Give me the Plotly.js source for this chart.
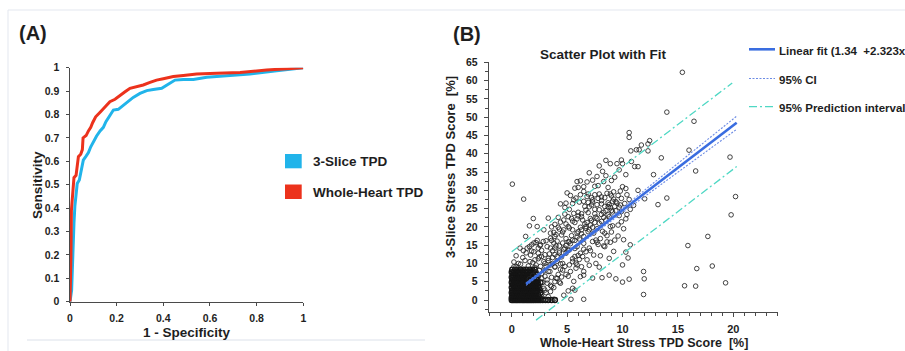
<!DOCTYPE html>
<html>
<head>
<meta charset="utf-8">
<script src="https://cdn.plot.ly/plotly-3.0.1.min.js"></script>
<style>html,body{margin:0;padding:0;background:#fff;}#chart{width:905px;height:351px;}</style>
</head>
<body>
<div id="chart"></div>
<script>
// ---------- Panel A: ROC curves ----------
const rocFprSlice = [0,0.007,0.01,0.013,0.017,0.021,0.026,0.031,0.04,0.046,0.051,0.057,0.069,0.079,0.089,0.1,0.114,0.129,0.143,0.154,0.169,0.186,0.207,0.229,0.25,0.271,0.3,0.329,0.357,0.393,0.421,0.45,0.486,0.529,0.586,0.671,0.771,0.886,1];
const rocTprSlice = [0,0.05,0.135,0.25,0.335,0.41,0.46,0.505,0.52,0.55,0.577,0.605,0.622,0.637,0.662,0.684,0.708,0.73,0.745,0.769,0.79,0.819,0.822,0.84,0.855,0.873,0.89,0.902,0.907,0.912,0.929,0.947,0.95,0.95,0.959,0.965,0.973,0.987,1];
const rocFprWhole = [0,0.003,0.004,0.006,0.011,0.017,0.026,0.031,0.036,0.046,0.053,0.056,0.069,0.079,0.089,0.097,0.11,0.129,0.143,0.157,0.171,0.193,0.214,0.236,0.257,0.286,0.314,0.343,0.371,0.4,0.443,0.486,0.543,0.629,0.729,0.843,0.929,1];
const rocTprWhole = [0,0.09,0.19,0.39,0.48,0.53,0.54,0.58,0.62,0.63,0.65,0.70,0.71,0.73,0.745,0.765,0.79,0.81,0.826,0.84,0.855,0.865,0.879,0.897,0.912,0.919,0.926,0.937,0.947,0.953,0.962,0.967,0.973,0.976,0.98,0.99,0.996,1];
const rocTicksX = [0,0.2,0.4,0.6,0.8,1];
const rocTickTextX = ['0','0.2','0.4','0.6','0.8','1'];
const rocLegend = ['3-Slice TPD','Whole-Heart TPD'];

// ---------- Panel B: scatter with fit ----------
const sparsePts = [
[15.4,62.3],[14.0,51.4],[16.45,48.9],[16.0,41.0],[16.6,35.3],[19.7,39.1],[20.2,28.3],[19.8,23.3],[17.7,17.4],[15.9,14.9],
[16.7,8.6],[18.1,9.3],[15.6,3.9],[16.6,3.8],[19.3,4.7],[0.06,31.7],[1.08,27.6],[12.0,27.7],[13.2,26.1],[14.0,27.9],
[12.8,34.3],[13.5,38.9],[11.9,7.8],[11.96,5.8],[11.9,1.5],[10.6,5.7],[10.0,4.9],[9.4,5.8],[8.8,6.8],[8.15,6.1],
[7.3,6.0],[6.5,0.2],[5.35,0.2],[5.7,2.7],[5.5,3.2],[5.1,2.5],[4.7,1.3],[10.0,9.6],[10.5,11.5],[10.7,15.1],
[10.3,13.1],[10.1,16.5],[10.3,22.2],[10.6,27.5],[11.4,30.0],[11.4,36.5],[11.1,36.5],[10.8,37.9],[10.3,34.3],[10.0,37.3],
[9.9,38.3],[9.5,37.3],[8.9,37.3],[8.5,38.2],[7.9,36.7],[8.2,35.2],[10.6,45.8],[10.6,44.5],[10.75,40.8],[11.25,41.1],
[11.5,41.1],[11.7,42.4],[12.3,42.7],[12.45,43.6],[12.3,40.8],[10.0,31.0],[10.3,30.5],
[6.2,32.6],[6.8,32.3],[7.3,32.8],[7.5,31.1],[7.8,31.3],[8.3,32.4],[9.0,32.7],[8.7,30.8],[9.2,29.6],[9.2,27.6],
[9.5,26.5],[9.1,27.0],[8.6,29.2],[7.9,29.0],[7.5,28.8],[7.2,28.0],[6.8,28.3],[6.5,29.7],[6.0,30.8],[5.3,28.6],
[5.6,27.4],[5.8,27.9],[4.9,26.5],[4.4,26.3],[4.8,25.3],[5.5,26.4],[6.1,26.8],[6.5,27.0],[6.9,26.7],[7.3,26.8],
[7.7,26.1],[8.1,27.2],[8.4,25.6],[8.8,26.1],[9.0,24.5],[9.4,24.4],[9.8,26.0],[9.9,24.2],[9.7,23.1],[8.8,22.8],
[8.5,21.9],[8.1,21.5],[7.6,22.7],[7.1,22.3],[6.8,21.2],[6.4,21.9],[6.0,23.0],[5.6,23.7],[5.1,22.8],[4.7,21.9],
[4.4,21.3],[4.2,19.9],[4.7,19.2],[5.1,20.1],[5.5,19.2],[5.9,18.3],[6.3,19.2],[6.7,20.1],[7.0,19.2],[7.4,18.3],
[7.7,19.5],[8.2,18.8],[8.4,18.3],[8.9,20.1],[9.1,20.3],[8.6,15.9],[7.3,16.0],[7.6,16.4],[6.5,15.5],[5.9,14.6],
[5.2,15.9],[4.8,14.2],[4.3,14.8],[3.9,14.2],[5.7,11.9],[6.1,11.1],[6.3,9.1],[6.5,7.8],[6.5,6.8],[5.8,8.7],
[5.3,7.8],[4.6,10.0],[4.4,8.4],[4.9,12.8],[5.2,13.7],
[1.95,22.3],[1.6,20.3],[2.3,20.1],[3.3,22.4],[2.9,19.2],[3.5,18.3],[3.9,20.7],[1.26,17.4],[0.75,14.2],[1.05,13.5],
[1.4,14.2],[1.8,15.1],[2.2,15.7],[2.55,14.9],[2.85,16.0],[3.2,14.6],[3.6,16.3],[3.9,17.4],[2.4,12.8],[2.7,11.9],
[2.1,11.0],[1.65,10.5],[3.0,10.0],[3.3,11.4],[3.7,10.0],[4.1,11.9],[3.9,9.1],[3.45,7.8],[4.1,5.9],[4.4,4.6],
[3.6,3.7],[3.3,0.9],[3.8,0.2],[2.9,0.3],[3.0,2.7],[0.4,12.1],[0.6,10.0],[0.2,9.1]
];
const cloudPts = [
[1.6,5.8],[1.9,6.7],[2.2,7.5],[2.5,8.1],[2.1,8.9],[2.4,6.3],[2.7,6.0],[2.9,8.0],[3.1,9.2],[3.3,10.8],
[3.5,9.6],[3.7,11.6],[3.9,12.4],[4.1,10.6],[4.3,12.9],[4.5,11.8],[4.7,13.9],[4.9,14.9],[5.1,13.6],[5.3,15.4],
[5.5,16.4],[5.7,14.1],[5.9,17.2],[6.1,16.7],[6.3,18.1],[6.5,17.4],[6.7,19.6],[6.9,18.7],[7.1,20.5],[7.3,19.9],
[7.5,21.2],[7.7,22.3],[7.9,21.0],[8.1,23.4],[8.3,22.6],[8.5,24.4],[8.7,23.3],[8.9,25.3],[9.1,24.1],[9.4,26.9],
[9.7,25.4],[9.9,27.8],[10.2,26.4],[10.4,28.8],
[1.0,11.6],[1.3,12.9],[1.6,14.6],[1.8,13.4],[2.0,15.6],[2.3,16.3],[2.6,15.1],[3.1,16.2],
[3.5,14.2],[3.8,15.6],[4.0,17.9],[4.3,19.4],[4.6,18.6],[4.9,20.8],[5.2,19.7],[5.4,22.3],[5.7,21.2],[6.0,24.0],
[6.3,22.8],[6.6,25.6],[6.9,23.9],[7.2,26.0],[7.5,24.8],[7.8,27.8],[8.1,26.3],[8.4,28.0],[8.7,25.5],[9.0,28.5],
[3.0,12.4],[2.7,13.6],[2.4,11.3],[3.9,9.0],[4.4,9.9],
[3.2,4.6],[3.5,2.3],[3.8,3.4],[4.0,6.0],[4.3,4.9],[4.6,8.2],[4.9,7.0],[5.2,9.6],[5.5,11.3],[5.8,10.1],
[6.0,12.2],[6.4,11.9],[6.7,13.2],[7.0,14.2],[7.4,12.3],[7.7,15.8],[8.0,16.8],[8.3,14.8],[8.6,17.6],[9.0,18.6],
[9.3,16.4],[9.6,20.5],[9.9,21.4],[10.1,19.5],[10.4,23.4],[10.7,24.8],[11.0,25.9],[5.6,5.1],[6.2,6.4],[7.0,9.5],
[7.9,9.0],[8.8,11.4],[7.0,34.8],[7.7,33.8],[8.5,34.0],[9.3,33.6],[9.7,35.6],[6.5,31.0],[5.9,32.4],
[2.7,1.5],[2.9,3.2],[3.1,2.0],[2.8,4.8],[3.2,5.5],[3.5,4.0],[3.0,6.5],[2.7,7.2],[3.3,7.8],[3.6,6.2],
[3.9,5.0],[4.2,7.0],[4.5,6.3],[2.6,9.2],[2.9,10.5],[2.5,11.8],[2.2,9.6],[1.9,10.2],[1.5,9.3],[1.2,10.8],
[0.8,9.8],[0.4,9.2],[0.2,10.4],[1.7,12.3],[2.0,13.2],[2.4,14.2],[3.4,12.6],[3.7,13.5],[4.0,14.8],[4.3,13.4],
[4.6,15.6],[4.9,16.8],[5.1,15.9],[5.4,17.6],[5.7,16.3],[6.0,18.7],[4.5,17.8],[4.1,16.1],[3.8,18.5],[3.5,16.9],
[3.6,20.0],[4.2,22.6],[4.8,23.5],[5.2,24.8],[5.5,21.6],
[5.9,22.2],[6.3,23.6],[6.7,24.6],[7.0,25.5],[6.6,20.8],[6.2,19.9],[7.2,21.8],[7.5,23.6],[7.9,24.7],[8.3,24.0],
[8.7,26.6],[9.3,25.6],[9.6,28.6],[9.8,29.8],[8.9,29.0],[8.1,28.2],[7.3,27.4],[6.9,29.0],[6.2,28.8],[5.7,30.6],
[5.0,29.3],[4.8,9.2],[5.1,6.5],[5.5,10.5],[5.9,9.6],[6.2,12.8],[6.8,11.0],[7.1,13.5],[7.6,10.0],[8.0,12.1],
[8.4,14.6],[8.9,15.8],[9.2,13.3],[9.6,17.5],[7.8,15.2],[6.5,13.9]
];
// dense block near the origin, row by row
const denseRowY = [0,0.6,1.3,2.0,2.7,3.4,4.1,4.8,5.5,6.2,6.9,7.6,8.3];
const denseRowX = [
[0,0.12,0.25,0.38,0.5,0.62,0.75,0.88,1,1.12,1.25,1.38,1.5,1.62,1.75,1.88,2,2.15,2.3,2.45,2.6,2.8,3.05,3.3,3.6,3.9],
[0,0.15,0.3,0.45,0.6,0.8,0.95,1.1,1.3,1.45,1.6,1.8,1.95,2.1,2.3,2.5],
[0.05,0.2,0.4,0.55,0.7,0.9,1.05,1.2,1.4,1.55,1.7,1.9,2.05,2.2,2.4],
[0,0.15,0.3,0.5,0.65,0.8,1,1.15,1.3,1.5,1.65,1.85,2,2.2,2.35,2.6],
[0.05,0.25,0.4,0.55,0.75,0.9,1.1,1.25,1.45,1.6,1.8,1.95,2.15,2.3,2.55],
[0,0.2,0.35,0.5,0.7,0.85,1.05,1.2,1.35,1.55,1.7,1.9,2.1,2.25,2.45],
[0.1,0.25,0.45,0.6,0.8,0.95,1.15,1.3,1.5,1.65,1.85,2,2.2,2.4],
[0,0.2,0.35,0.55,0.7,0.9,1.05,1.25,1.4,1.6,1.75,1.95,2.15,2.35,2.6],
[0.05,0.25,0.4,0.6,0.75,0.95,1.1,1.3,1.45,1.65,1.85,2.05,2.3],
[0,0.15,0.35,0.5,0.7,0.85,1.05,1.2,1.4,1.6,1.8,2,2.25],
[0.1,0.3,0.45,0.65,0.8,1,1.15,1.35,1.55,1.75,1.95,2.2],
[0,0.2,0.4,0.6,0.8,1,1.2,1.45,1.7,1.9,2.15],
[0.05,0.3,0.55,0.8,1.05,1.3,1.6,1.85,2.1]
];
const fitX = [1.3, 20.3];
const fitY = [4.36, 48.5];
const ciX = [1.3, 5, 10, 15, 20.3];
const ciUpper = [4.7, 13.3, 25.2, 37.4, 50.3];
const ciLower = [4.0, 12.6, 23.9, 35.0, 46.7];
const piUpperX = [0, 19.9];
const piUpperY = [13.2, 59.4];
const piLowerX = [2.2, 20.3];
const piLowerY = [-5.5, 36.5];
const scatterTicksX = [0,5,10,15,20];
const fitLegend = ['Linear fit (1.34\u00a0 +2.323x','95% CI','95% Prediction interval'];

// ---------- build ----------
const W = 905, H = 351;
const fx = p => p / W;
const fy = p => 1 - p / H;
const FONT = 'Liberation Sans, Arial, sans-serif';
const TXT = '#1e1e1e';

const sx = [], sy = [];
sparsePts.forEach(p => { sx.push(p[0]); sy.push(p[1]); });
cloudPts.forEach(p => { sx.push(p[0]); sy.push(p[1]); });
const dx = [], dy = [];
denseRowY.forEach((yv, i) => denseRowX[i].forEach(xv => { dx.push(xv); dy.push(yv); }));

// Panel B geometry (pixels)
const bLeft = 489.3, bRight = 778, bTop = 61.7, bBottom = 311.7;
const yRangeB = [-3.2, 65.2];
const ppu = (bBottom - bTop) / (yRangeB[1] - yRangeB[0]);
const extBottom = 325;
const yRangeB3 = [yRangeB[0] - (extBottom - bBottom) / ppu, yRangeB[1]];
const xRangeB = [-2.02, 24.03];

const PI_DASH = '8px,3px,2px,3px';
const CI_DASH = '2px,1.5px';
const traces = [
  {x: rocFprSlice, y: rocTprSlice, mode: 'lines', line: {color: '#21b4ea', width: 3}, xaxis: 'x', yaxis: 'y', hoverinfo: 'skip'},
  {x: rocFprWhole, y: rocTprWhole, mode: 'lines', line: {color: '#ec321c', width: 3}, xaxis: 'x', yaxis: 'y', hoverinfo: 'skip'},
  {x: dx, y: dy, mode: 'markers', xaxis: 'x2', yaxis: 'y2',
   marker: {symbol: 'circle-open', size: 5, color: '#141414', line: {width: 1.4}}, hoverinfo: 'skip'},
  {x: sx, y: sy, mode: 'markers', xaxis: 'x2', yaxis: 'y2',
   marker: {symbol: 'circle-open', size: 4.6, color: 'rgba(35,35,35,0.85)', line: {width: 1}}, hoverinfo: 'skip'},
  {x: piUpperX, y: piUpperY, mode: 'lines', xaxis: 'x3', yaxis: 'y3', line: {color: '#4fd8c4', width: 1.3, dash: PI_DASH}, hoverinfo: 'skip'},
  {x: piLowerX, y: piLowerY, mode: 'lines', xaxis: 'x3', yaxis: 'y3', line: {color: '#4fd8c4', width: 1.3, dash: PI_DASH}, hoverinfo: 'skip'},
  {x: ciX, y: ciUpper, mode: 'lines', xaxis: 'x3', yaxis: 'y3', line: {color: '#6c8be4', width: 1.1, dash: CI_DASH}, hoverinfo: 'skip'},
  {x: ciX, y: ciLower, mode: 'lines', xaxis: 'x3', yaxis: 'y3', line: {color: '#6c8be4', width: 1.1, dash: CI_DASH}, hoverinfo: 'skip'},
  {x: fitX, y: fitY, mode: 'lines', xaxis: 'x3', yaxis: 'y3', line: {color: '#3a6de0', width: 2.6}, hoverinfo: 'skip'}
];

const tickFont = {family: FONT, size: 10.5, color: TXT, weight: 'bold'};
const axA = {showgrid: false, zeroline: false, showline: true, linecolor: '#4a4a4a', linewidth: 1.5,
  ticks: 'outside', ticklen: 3, tickwidth: 1, tickcolor: '#4a4a4a', tickfont: tickFont, fixedrange: true};

const layout = {
  width: W, height: H, margin: {l: 0, r: 0, t: 0, b: 0},
  paper_bgcolor: '#ffffff', plot_bgcolor: 'rgba(0,0,0,0)', showlegend: false,
  xaxis: Object.assign({}, axA, {domain: [fx(70), fx(303.3)], range: [0, 1], tickvals: rocTicksX, ticktext: rocTickTextX, anchor: 'y', ticklabelstandoff: 3}),
  yaxis: Object.assign({}, axA, {domain: [fy(301.7), fy(67.7)], range: [0, 1], dtick: 0.1, tick0: 0, anchor: 'x', ticklabelstandoff: 4}),
  xaxis2: Object.assign({}, axA, {domain: [fx(bLeft), fx(bRight)], range: xRangeB, tickvals: scatterTicksX, anchor: 'y2',
    ticklen: 4, tickfont: Object.assign({}, tickFont, {size: 11}), ticklabelstandoff: 3,
    minor: {dtick: 1, tick0: 0, ticks: 'outside', ticklen: 3, tickcolor: '#4a4a4a', tickwidth: 1}}),
  yaxis2: Object.assign({}, axA, {domain: [fy(bBottom), fy(bTop)], range: yRangeB, dtick: 5, tick0: 0, anchor: 'x2',
    ticklen: 4, ticklabelstandoff: 4,
    minor: {dtick: 2.5, tick0: 0, ticks: 'outside', ticklen: 3, tickcolor: '#4a4a4a', tickwidth: 1}}),
  xaxis3: {domain: [fx(bLeft), fx(bRight)], range: xRangeB, visible: false, anchor: 'y3', fixedrange: true},
  yaxis3: {domain: [fy(extBottom), fy(bTop)], range: yRangeB3, visible: false, anchor: 'x3', fixedrange: true},
  shapes: [
    {type: 'line', xref: 'paper', yref: 'paper', x0: fx(8), x1: fx(905), y0: fy(10), y1: fy(10), line: {color: '#e3e7ef', width: 1}},
    {type: 'line', xref: 'paper', yref: 'paper', x0: fx(8), x1: fx(8), y0: fy(10), y1: fy(351), line: {color: '#e3e7ef', width: 1}},
    {type: 'line', xref: 'paper', yref: 'paper', x0: fx(27), x1: fx(425), y0: fy(340), y1: fy(340), line: {color: '#dce1ea', width: 1}},
    {type: 'rect', xref: 'paper', yref: 'paper', x0: fx(285), x1: fx(301.7), y0: fy(168.3), y1: fy(154), fillcolor: '#21b4ea', line: {width: 0}},
    {type: 'rect', xref: 'paper', yref: 'paper', x0: fx(285), x1: fx(301.7), y0: fy(199), y1: fy(184.5), fillcolor: '#ec321c', line: {width: 0}},
    {type: 'line', xref: 'paper', yref: 'paper', x0: fx(749), x1: fx(775), y0: fy(49.3), y1: fy(49.3), line: {color: '#3a6de0', width: 2.6}},
    {type: 'line', xref: 'paper', yref: 'paper', x0: fx(749), x1: fx(775), y0: fy(78.5), y1: fy(78.5), line: {color: '#6c8be4', width: 1.1, dash: CI_DASH}},
    {type: 'line', xref: 'paper', yref: 'paper', x0: fx(749), x1: fx(775), y0: fy(106.7), y1: fy(106.7), line: {color: '#4fd8c4', width: 1.3, dash: PI_DASH}}
  ],
  annotations: [
    {text: '(A)', x: fx(17), y: fy(33), xanchor: 'left', yanchor: 'middle', font: {family: FONT, size: 20, color: TXT, weight: 'bold'}},
    {text: '(B)', x: fx(451), y: fy(34), xanchor: 'left', yanchor: 'middle', font: {family: FONT, size: 20, color: TXT, weight: 'bold'}},
    {text: 'Sensitivity', x: fx(37), y: fy(185), textangle: -90, xanchor: 'center', yanchor: 'middle', font: {family: FONT, size: 13.5, color: TXT, weight: 'bold'}},
    {text: '1 - Specificity', x: fx(186.5), y: fy(332), xanchor: 'center', yanchor: 'middle', font: {family: FONT, size: 13.5, color: TXT, weight: 'bold'}},
    {text: rocLegend[0], x: fx(311), y: fy(161), xanchor: 'left', yanchor: 'middle', font: {family: FONT, size: 13.5, color: TXT, weight: 'bold'}},
    {text: rocLegend[1], x: fx(311), y: fy(192.5), xanchor: 'left', yanchor: 'middle', font: {family: FONT, size: 13.5, color: TXT, weight: 'bold'}},
    {text: 'Scatter Plot with Fit', x: fx(603.5), y: fy(55), xanchor: 'center', yanchor: 'middle', font: {family: FONT, size: 13.5, color: TXT, weight: 'bold'}},
    {text: '3-Slice Stress TPD Score \u00a0[%]', x: fx(450), y: fy(167), textangle: -90, xanchor: 'center', yanchor: 'middle', font: {family: FONT, size: 13, color: TXT, weight: 'bold'}},
    {text: 'Whole-Heart Stress TPD Score \u00a0[%]', x: fx(644), y: fy(342.8), xanchor: 'center', yanchor: 'middle', font: {family: FONT, size: 12.5, color: TXT, weight: 'bold'}},
    {text: fitLegend[0], x: fx(776.5), y: fy(50.7), xanchor: 'left', yanchor: 'middle', font: {family: FONT, size: 11.5, color: TXT, weight: 'bold'}},
    {text: fitLegend[1], x: fx(776.5), y: fy(80), xanchor: 'left', yanchor: 'middle', font: {family: FONT, size: 11.5, color: TXT, weight: 'bold'}},
    {text: fitLegend[2], x: fx(776.5), y: fy(108.3), xanchor: 'left', yanchor: 'middle', font: {family: FONT, size: 11.5, color: TXT, weight: 'bold'}}
  ].map(a => Object.assign({xref: 'paper', yref: 'paper', showarrow: false}, a))
};

Plotly.newPlot('chart', traces, layout, {displayModeBar: false, staticPlot: true});
</script>
</body>
</html>
